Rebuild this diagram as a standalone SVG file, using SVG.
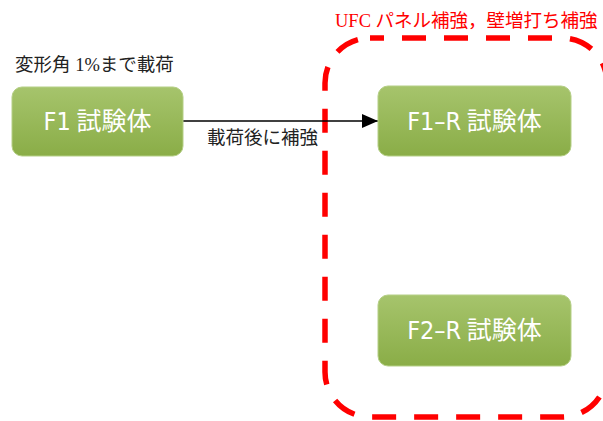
<svg xmlns="http://www.w3.org/2000/svg" width="603" height="421" viewBox="0 0 603 421">
<defs>
<linearGradient id="g" x1="0" y1="0" x2="0" y2="1">
<stop offset="0" stop-color="#a6c46c"/>
<stop offset="1" stop-color="#8aad47"/>
</linearGradient>
<marker id="ah" markerWidth="16" markerHeight="14" refX="16" refY="7" orient="auto" markerUnits="userSpaceOnUse">
<path d="M0,0 L16,7 L0,14 z" fill="#000"/>
</marker>
</defs>
<style>
.box{fill:url(#g);stroke:#b5cf86;stroke-width:1}
.bt{fill:#fff;font-family:"Noto Sans CJK JP",sans-serif;font-size:25px;text-anchor:middle}
.lt{font-family:"DejaVu Sans Condensed","Noto Sans CJK JP",sans-serif;font-weight:300}
.lab{font-family:"Liberation Serif","Noto Sans CJK JP",serif;font-size:18.5px;fill:#222}
</style>
<g id="group-frame">
<rect x="325" y="38" width="282" height="379" rx="45" fill="none" stroke="#ff0000" stroke-width="5.5" stroke-dasharray="24 18" stroke-dashoffset="10"/>
<text class="lab" x="335" y="27" style="fill:#ff0000">UFC パネル補強，壁増打ち補強</text>
</g>
<text class="lab" x="15" y="71">変形角 1%まで載荷</text>
<g id="connectors">
<line x1="183" y1="121" x2="378" y2="121" stroke="#000" stroke-width="1.3" marker-end="url(#ah)"/>
<text class="lab" x="207" y="144">載荷後に補強</text>
</g>
<g id="F1">
<rect class="box" x="12" y="87" width="171" height="69" rx="10"/>
<text class="bt" x="97.5" y="130"><tspan class="lt">F1</tspan> 試験体</text>
</g>
<g id="F1-R">
<rect class="box" x="378" y="86" width="193" height="70" rx="10"/>
<text class="bt" x="474.5" y="130"><tspan class="lt">F1–R</tspan> 試験体</text>
</g>
<g id="F2-R">
<rect class="box" x="378" y="295" width="193" height="71" rx="10"/>
<text class="bt" x="474.5" y="339"><tspan class="lt">F2–R</tspan> 試験体</text>
</g>
</svg>
